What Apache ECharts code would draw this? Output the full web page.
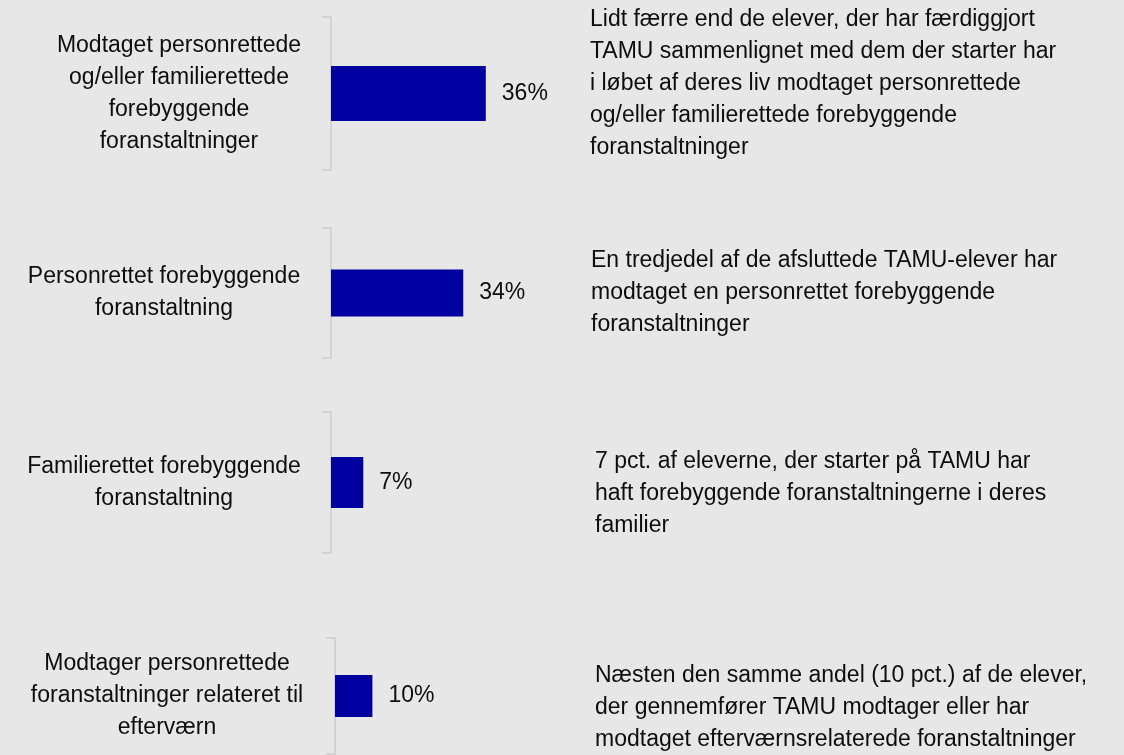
<!DOCTYPE html>
<html>
<head>
    <meta charset="utf-8">
    <title>TAMU</title>
    <script src="https://cdn.jsdelivr.net/npm/echarts@6/dist/echarts.min.js"></script>
    <style>
        html, body { margin: 0; padding: 0; background: #e7e7e7; }
    </style>
</head>
<body>
<div id="main" style="width: 1124px;height:755px;"></div>
<script type="text/javascript">
    // kategorier (en pr. delgraf)
    var categories = [
        'Modtaget personrettede\nog/eller familierettede\nforebyggende\nforanstaltninger',
        'Personrettet forebyggende\nforanstaltning',
        'Familierettet forebyggende\nforanstaltning',
        'Modtager personrettede\nforanstaltninger relateret til\nefterværn'
    ];
    // andele i procent
    var values = [36, 34, 7, 10];
    // kommentarer til højre
    var notes = [
        'Lidt færre end de elever, der har færdiggjort\nTAMU sammenlignet med dem der starter har\ni løbet af deres liv modtaget personrettede\nog/eller familierettede forebyggende\nforanstaltninger',
        'En tredjedel af de afsluttede TAMU-elever har\nmodtaget en personrettet forebyggende\nforanstaltninger',
        '7 pct. af eleverne, der starter på TAMU har\nhaft forebyggende foranstaltningerne i deres\nfamilier',
        'Næsten den samme andel (10 pct.) af de elever,\nder gennemfører TAMU modtager eller har\nmodtaget efterværnsrelaterede foranstaltninger'
    ];

    var font = '"Liberation Sans", Arial, Helvetica, sans-serif';
    var textColor = '#0d0d0d';

    // placering af de fire små grafer
    var boxes = [
        {left: 331, top: 17, width: 430, height: 153, margin: 152},
        {left: 331, top: 228, width: 389, height: 130, margin: 167},
        {left: 331, top: 412, width: 461, height: 141, margin: 167},
        {left: 335, top: 638, width: 374, height: 116, margin: 168}
    ];
    var notePos = [[590, 4], [591, 245], [595, 446], [595, 660]];

    var grids = [], xAxes = [], yAxes = [], series = [], graphics = [];
    for (var i = 0; i < categories.length; i++) {
        var b = boxes[i];
        grids.push({left: b.left, top: b.top, width: b.width, height: b.height});
        xAxes.push({gridIndex: i, type: 'value', min: 0, max: 100, show: false});
        yAxes.push({
            gridIndex: i,
            type: 'category',
            data: [categories[i]],
            axisLine: {show: true, lineStyle: {color: '#d3d3d3', width: 2}},
            axisTick: {show: true, alignWithLabel: false, length: 9, lineStyle: {color: '#d3d3d3', width: 2}},
            axisLabel: {
                margin: b.margin,
                align: 'center',
                color: textColor,
                fontFamily: font,
                fontSize: 23,
                lineHeight: 32
            }
        });
        series.push({
            type: 'bar',
            xAxisIndex: i,
            yAxisIndex: i,
            data: [values[i]],
            barWidth: '36%',
            itemStyle: {color: '#0000a0'},
            label: {
                show: true,
                position: 'right',
                distance: 16,
                formatter: '{c}%',
                color: textColor,
                fontFamily: font,
                fontSize: 23
            },
            silent: true
        });
        graphics.push({
            type: 'text',
            left: notePos[i][0],
            top: notePos[i][1],
            style: {
                text: notes[i],
                fill: textColor,
                fontFamily: font,
                fontSize: 23,
                lineHeight: 32
            }
        });
    }

    var myChart = echarts.init(document.getElementById('main'));
    var option = {
        backgroundColor: '#e7e7e7',
        animation: false,
        grid: grids,
        xAxis: xAxes,
        yAxis: yAxes,
        series: series,
        graphic: graphics
    };
    myChart.setOption(option);
</script>
</body>
</html>
